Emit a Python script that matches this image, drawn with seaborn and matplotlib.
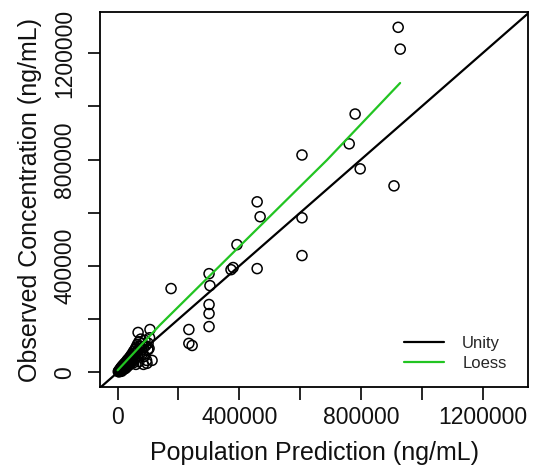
import matplotlib
matplotlib.use("Agg")
import matplotlib.pyplot as plt
import seaborn as sns
import numpy as np
import pandas as pd
from matplotlib.lines import Line2D

# Population prediction (x) and observed concentration (y), ng/mL
pred_outer = [922200, 929000, 780700, 761200, 797300, 908500, 606000, 606000, 606000,
              458600, 468400, 458600, 392200, 372700, 379550, 300500, 303400, 175600,
              300500, 300500, 300500, 234100, 234100, 244900, 106300, 67200, 99400,
              96500, 113100, 103300]
obs_outer = [1297000, 1215000, 971000, 859000, 765000, 701000, 817000, 581000, 439000,
             641000, 585000, 390000, 480000, 386000, 394000, 371000, 326000, 315000,
             255000, 221000, 172000, 161000, 109000, 101000, 161000, 150000, 86000,
             34000, 45000, 90000]

pred_cluster_k = [2, 4, 5, 6, 8, 9, 10, 11, 12, 13, 14, 15, 16, 17, 18, 19, 20, 21, 22, 23,
                  24, 25, 26, 27, 28, 29, 30, 31, 32, 33, 34, 35, 36, 37, 38, 39, 40, 42, 43,
                  44, 45, 46, 48, 49, 50, 52, 53, 55, 56, 58, 60, 61, 63, 65, 66, 68, 70, 72,
                  74, 76, 78, 80, 83, 85, 88, 90, 92, 95, 100, 105, 100, 70, 60, 50, 85]
obs_cluster_k = [3, 6, 2, 9, 5, 14, 8, 18, 11, 4, 20, 13, 25, 10, 22, 16, 30, 12, 27, 19,
                 35, 22, 15, 38, 26, 33, 20, 45, 30, 40, 25, 50, 36, 44, 28, 55, 41, 60, 35,
                 48, 65, 40, 55, 72, 45, 62, 80, 50, 70, 88, 58, 95, 75, 105, 62, 82, 115, 70,
                 98, 125, 85, 108, 72, 95, 60, 120, 100, 45, 85, 130, 110, 40, 30, 35, 30]

# Loess smooth
loess_x = [0, 139000, 400000, 688000, 928600]
loess_y = [8000, 178000, 473000, 798000, 1087600]

x_ticks = [0, 200000, 400000, 600000, 800000, 1000000, 1200000]
tick_labels = ["0", "", "400000", "", "800000", "", "1200000"]

pred = pred_outer + [v * 1000 for v in pred_cluster_k]
obs = obs_outer + [v * 1000 for v in obs_cluster_k]
df = pd.DataFrame({"pred": pred, "obs": obs})
loess_df = pd.DataFrame({"x": loess_x, "y": loess_y})

sns.set_theme(style="white")
plt.rcParams["font.family"] = ["Liberation Sans", "DejaVu Sans"]

fig = plt.figure(figsize=(5.35, 4.65), dpi=100)
ax = fig.add_axes([100 / 535, 1 - 387 / 465, 428 / 535, 375 / 465])

sns.scatterplot(data=df, x="pred", y="obs", ax=ax, marker="o", s=52,
                facecolors="none", edgecolor="black", linewidth=1.1, zorder=3)
ax.axline((0, 0), slope=1, color="black", lw=1.6, zorder=2)
sns.lineplot(data=loess_df, x="x", y="y", ax=ax, color="#22c422", lw=1.6, zorder=4)

ax.set_xlim(-58000, 1349000)
ax.set_ylim(-55000, 1354500)
ax.set_xticks(x_ticks)
ax.set_xticklabels(tick_labels)
ax.set_yticks(x_ticks)
ax.set_yticklabels(tick_labels, rotation=90, va="center")
ax.tick_params(axis="both", direction="out", length=9, width=1.2, color="black",
               labelsize=16.5, labelcolor="#111111", bottom=True, left=True)
ax.tick_params(axis="x", pad=5)
ax.tick_params(axis="y", pad=8)
ax.set_xlabel("Population Prediction (ng/mL)", fontsize=18, color="#111111", labelpad=8)
ax.set_ylabel("Observed Concentration (ng/mL)", fontsize=18, color="#111111", labelpad=8)
for s in ax.spines.values():
    s.set_color("black")
    s.set_linewidth(1.3)
    s.set_visible(True)

handles = [Line2D([0], [0], color="black", lw=1.6),
           Line2D([0], [0], color="#22c422", lw=1.6)]
ax.legend(handles, ["Unity", "Loess"], loc="lower right", frameon=False,
          fontsize=12, handlelength=2.4, handletextpad=1.1, labelspacing=0.3,
          bbox_to_anchor=(0.985, 0.003))

fig.savefig("out.png", dpi=100)
